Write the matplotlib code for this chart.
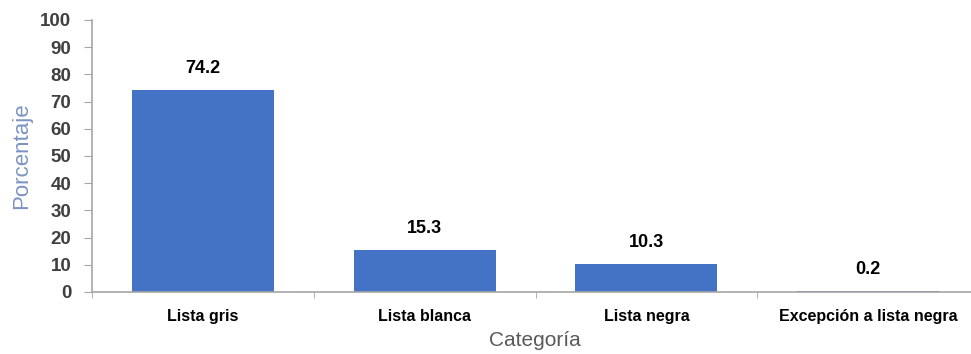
import matplotlib
matplotlib.use("Agg")
import matplotlib.pyplot as plt
import numpy as np

plt.rcParams["font.family"] = ["Liberation Sans Narrow", "Liberation Sans", "DejaVu Sans"]

categories = ["Lista gris", "Lista blanca", "Lista negra", "Excepción a lista negra"]
values = [74.2, 15.3, 10.3, 0.2]
value_labels = ["74.2", "15.3", "10.3", "0.2"]
y_ticks = [0, 10, 20, 30, 40, 50, 60, 70, 80, 90, 100]

bar_color = "#4472c4"
axis_color = "#a6a6a6"

fig = plt.figure(figsize=(9.71, 3.54), dpi=100)
ax = fig.add_axes([92 / 971, 62 / 354, 887 / 971, 272 / 354])

x = np.arange(len(categories))
bars = ax.bar(x, values, width=0.64, color=bar_color, zorder=2)

for xi, v, lab in zip(x, values, value_labels):
    ax.annotate(lab, (xi, v), xytext=(0, 9.5), textcoords="offset points",
                ha="center", va="bottom", fontsize=13, fontweight="bold", color="black")

ax.set_xlim(-0.5, len(categories) - 0.5)
ax.set_ylim(0, 100)
ax.set_yticks(y_ticks)
ax.set_yticklabels([str(t) for t in y_ticks], fontsize=13.5, fontweight="bold", color="#404040")

ax.set_xticks(x)
ax.set_xticklabels(categories, fontsize=11.5, fontweight="bold", color="black")
ax.tick_params(axis="x", which="major", length=0, pad=12)
ax.set_xticks(np.arange(len(categories) + 1) - 0.5, minor=True)
ax.tick_params(axis="x", which="minor", length=4, color=axis_color, direction="out")
ax.tick_params(axis="y", length=6, color=axis_color, direction="out", pad=9)

for side in ["top", "right"]:
    ax.spines[side].set_visible(False)
ax.spines["left"].set_color(axis_color)
ax.spines["bottom"].set_color(axis_color)
ax.spines["left"].set_linewidth(1.2)
ax.spines["bottom"].set_linewidth(1.2)

ax.set_ylabel("Porcentaje", fontsize=16, color="#7a94c2", labelpad=6)
fig.text(535 / 971, 13 / 354, "Categoría", fontsize=15, color="#595959", ha="center", va="center")

fig.savefig("out.png", dpi=100)
